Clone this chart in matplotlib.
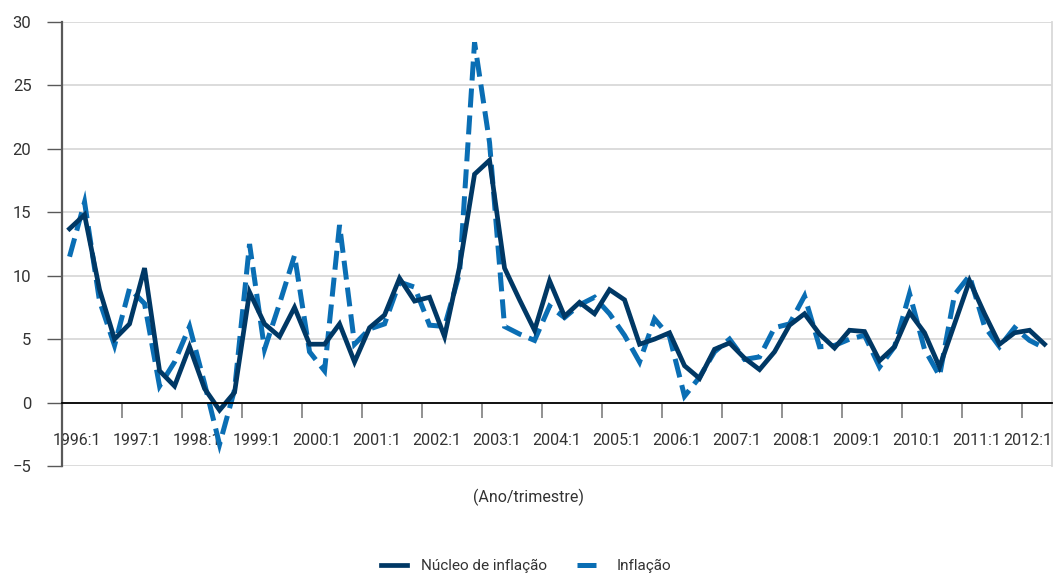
import numpy as np
import matplotlib
matplotlib.use("Agg")
import matplotlib.pyplot as plt
from matplotlib.ticker import FixedLocator
from matplotlib.transforms import ScaledTranslation

plt.rcParams['font.family'] = ['Roboto', 'DejaVu Sans']

# quarterly series, 1996:1 .. 2012:2
years = list(range(1996, 2013))
year_labels = [str(y) + ":1" for y in years]

nucleo = [13.7, 14.8, 8.9, 5.0, 6.2, 10.6, 2.5, 1.3, 4.4, 1.1, -0.6, 0.8,
          8.7, 6.2, 5.2, 7.5, 4.6, 4.6, 6.2, 3.2, 5.9, 6.9, 9.8, 8.0,
          8.3, 5.2, 10.7, 18.0, 19.1, 10.6, 8.1, 5.7, 9.6, 6.8, 7.9, 7.0,
          8.9, 8.1, 4.6, 5.0, 5.5, 2.9, 1.9, 4.2, 4.7, 3.5, 2.6, 4.0,
          6.1, 7.0, 5.4, 4.3, 5.7, 5.6, 3.3, 4.4, 7.1, 5.5, 2.8, 6.2,
          9.6, 7.0, 4.6, 5.5, 5.7, 4.6]

inflacao = [11.5, 15.8, 8.0, 4.5, 9.0, 7.8, 1.3, 3.2, 6.0, 1.5, -3.3, 1.0,
            12.5, 4.2, 7.8, 11.6, 4.0, 2.5, 14.0, 4.6, 5.8, 6.2, 9.5, 9.1,
            6.1, 6.0, 10.2, 28.4, 20.5, 6.0, 5.4, 4.9, 7.6, 6.7, 7.7, 8.3,
            7.0, 5.3, 3.2, 6.6, 5.2, 0.5, 2.0, 4.0, 5.0, 3.4, 3.6, 5.9,
            6.2, 8.4, 4.4, 4.5, 5.0, 5.3, 2.8, 4.4, 8.6, 4.2, 2.1, 8.5,
            10.0, 6.0, 4.4, 5.9, 4.9, 4.3]

x = np.arange(len(nucleo))

fig = plt.figure(figsize=(10.57, 5.76), dpi=100)
ax = fig.add_axes([0.0587, 0.191, 0.9366, 0.7708])

ax.plot(x, nucleo, color='#003865', lw=3.4, solid_joinstyle='miter',
        label='Núcleo de inflação', zorder=4)
ax.plot(x, inflacao, color='#0a6eb4', lw=3.6, linestyle=(0, (3.8, 1.6)),
        dash_joinstyle='miter', dash_capstyle='butt', label='Inflação', zorder=3)

ax.set_xlim(-0.5, len(x) - 0.5)
ax.set_ylim(-5, 30)

# gridlines
ax.set_yticks(np.arange(-5, 31, 5))
ax.yaxis.grid(True, color='#d9d9d9', lw=1.3)
ax.set_axisbelow(True)
ax.tick_params(axis='y', direction='out', length=11, width=1.0, color='#595959',
               pad=11, labelsize=12, labelcolor='#333333')

# category axis crossing at zero
ax.spines['bottom'].set_position(('data', 0))
ax.spines['bottom'].set_color('black')
ax.spines['bottom'].set_linewidth(1.3)
ax.spines['bottom'].set_zorder(5)
ax.spines['left'].set_color('#595959')
ax.spines['left'].set_linewidth(1.6)
ax.spines['top'].set_visible(False)
ax.spines['right'].set_color('#d9d9d9')
ax.spines['right'].set_linewidth(1.3)

ax.xaxis.set_major_locator(FixedLocator(np.arange(3.5, len(x) - 1, 4)))
ax.xaxis.set_major_formatter(plt.NullFormatter())
ax.set_xticks(np.arange(0.5, len(x), 4), labels=year_labels, minor=True)
ax.tick_params(axis='x', which='major', direction='out', length=11, width=1.2,
               color='#7f7f7f')
ax.tick_params(axis='x', which='minor', length=0, pad=22, labelsize=11.5,
               labelcolor='#333333')

# last label sits against the right edge, nudge it in
last = ax.xaxis.get_minorticklabels()[-1]
last.set_transform(last.get_transform() + ScaledTranslation(-7 / 72, 0, fig.dpi_scale_trans))

fig.text(0.5, 0.137, '(Ano/trimestre)', ha='center', va='center',
         fontsize=11.5, color='#333333')

leg = fig.legend(loc='center', bbox_to_anchor=(0.498, 0.017), ncol=2, frameon=False,
                 fontsize=11, handlelength=1.7, columnspacing=2.0,
                 handletextpad=0.9)
for t in leg.get_texts():
    t.set_color('#333333')

fig.savefig('out.png', dpi=100)
